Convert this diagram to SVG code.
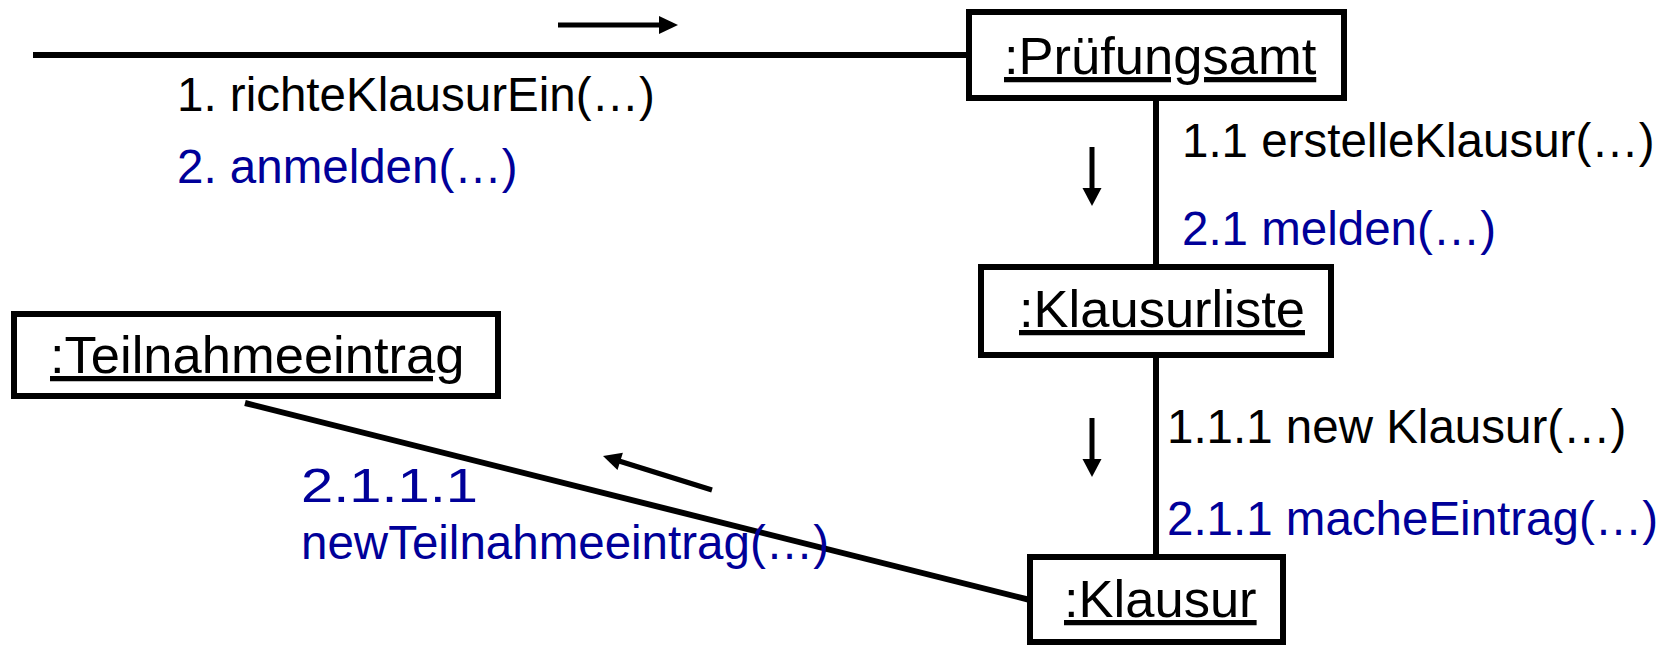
<svg xmlns="http://www.w3.org/2000/svg" width="1679" height="645" viewBox="0 0 1679 645">
<style>
.box{fill:#fff;stroke:#000;stroke-width:6}
.name{font-family:"Liberation Sans",Arial,sans-serif;font-size:52.5px;fill:#000;text-decoration:underline}
.lbl{font-family:"Liberation Sans",Arial,sans-serif;font-size:47.5px}
.blk{fill:#000}
.blu{fill:#000099}
.conn{stroke:#000;stroke-width:6;fill:none}
.shaft{stroke:#000;stroke-width:5;fill:none}
.head{fill:#000}
</style>
<rect width="1679" height="645" fill="#fff"/>
<g id="connectors">
<line class="conn" x1="33" y1="55" x2="969" y2="55"/>
<line class="conn" x1="1156" y1="98" x2="1156" y2="267"/>
<line class="conn" x1="1156" y1="355" x2="1156" y2="557"/>
<line class="conn" x1="245" y1="403" x2="1030" y2="600"/>
</g>
<g id="arrows">
<line class="shaft" x1="558" y1="25" x2="661" y2="25"/>
<polygon class="head" points="659,16 678,25 659,34"/>
<line class="shaft" x1="1092" y1="147" x2="1092" y2="190"/>
<polygon class="head" points="1082.5,188 1092,206 1101.5,188"/>
<line class="shaft" x1="1092" y1="418" x2="1092" y2="461"/>
<polygon class="head" points="1082.5,459 1092,477 1101.5,459"/>
<line class="shaft" x1="712" y1="490" x2="619" y2="461"/>
<polygon class="head" points="603,456 622.9,452.8 617.5,470"/>
</g>
<g id="labels">
<text class="lbl blk" x="177" y="111">1. richteKlausurEin(…)</text>
<text class="lbl blu" x="177" y="183">2. anmelden(…)</text>
<text class="lbl blk" x="1182" y="157">1.1 erstelleKlausur(…)</text>
<text class="lbl blu" x="1182" y="245">2.1 melden(…)</text>
<text class="lbl blk" x="1167" y="443">1.1.1 new Klausur(…)</text>
<text class="lbl blu" x="1167" y="535">2.1.1 macheEintrag(…)</text>
<text class="lbl blu" x="301" y="502" textLength="177" lengthAdjust="spacingAndGlyphs">2.1.1.1</text>
<text class="lbl blu" x="301" y="559">newTeilnahmeeintrag(…)</text>
</g>
<g id="pruefungsamt">
<rect class="box" x="969" y="12" width="375" height="86"/>
<text class="name" x="1004" y="74">:Prüfungsamt</text>
</g>
<g id="klausurliste">
<rect class="box" x="981" y="267" width="350" height="88"/>
<text class="name" x="1019" y="327">:Klausurliste</text>
</g>
<g id="teilnahmeeintrag">
<rect class="box" x="14" y="314" width="484" height="82"/>
<text class="name" x="50" y="373">:Teilnahmeeintrag</text>
</g>
<g id="klausur">
<rect class="box" x="1030" y="557" width="253" height="85"/>
<text class="name" x="1064" y="617">:Klausur</text>
</g>
</svg>
